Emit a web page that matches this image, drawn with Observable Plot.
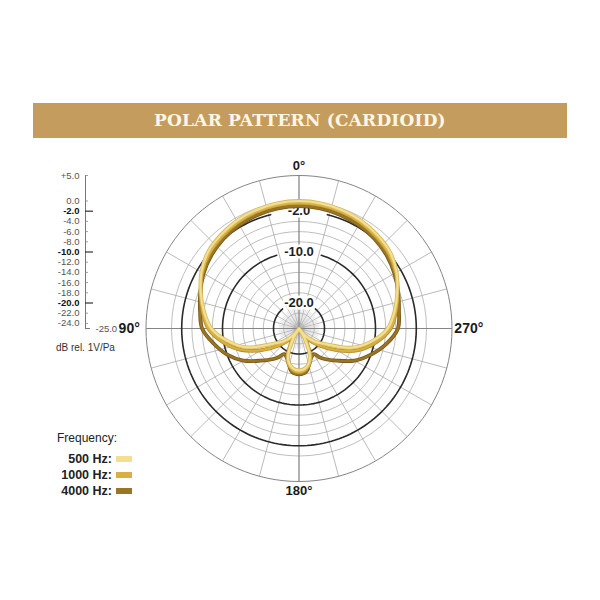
<!DOCTYPE html>
<html>
<head>
<meta charset="utf-8">
<script src="https://cdn.jsdelivr.net/npm/d3@7"></script>
<script src="https://cdn.jsdelivr.net/npm/@observablehq/plot@0.6"></script>
<style>
  html, body { margin: 0; padding: 0; background: #fff; }
  body { font-family: "Liberation Sans", Arial, Helvetica, sans-serif; }
  #page { position: relative; width: 600px; height: 600px; overflow: hidden; }
  #chart { position: absolute; left: 0; top: 0; }
  #banner { position: absolute; left: 33px; top: 103px; width: 534px; height: 35px;
    background: #c49d5e; color: #fbf6e8; font-family: "DejaVu Serif", serif; font-weight: bold;
    font-size: 17px; line-height: 35px; text-align: center; letter-spacing: 0.2px; }
  #unit { position: absolute; left: 56px; top: 342px; font-size: 10px; color: #333; }
  #legend { position: absolute; left: 57px; top: 430px; color: #222; }
  #legend .title { font-size: 12px; line-height: 16px; margin-bottom: 5px; }
  #legend .row { display: flex; align-items: center; height: 16px; }
  #legend .lab { width: 55px; text-align: right; font-size: 12.5px; font-weight: bold; }
  #legend .sw { width: 16px; height: 6px; margin-left: 4px; }
</style>
</head>
<body>
<div id="page">
  <div id="chart"></div>
  <div id="banner"></div>
  <div id="unit"></div>
  <div id="legend"></div>
</div>
<script>
// ---------------- data ----------------
const titleText = "POLAR PATTERN (CARDIOID)";
const unitText = "dB rel. 1V/Pa";
const legendTitle = "Frequency:";
const frequencies = ["500 Hz", "1000 Hz", "4000 Hz"];

// angle in degrees (0° = front/top, 90° = left, 180° = rear, 270° = right)
const angles = [0,10,20,30,40,50,60,70,80,90,100,110,120,130,140,145,150,160,170,180,190,200,210,215,220,230,240,250,260,270,280,290,300,310,320,330,340,350];
// response in dB
const db500  = [0.0,-0.1,-0.3,-0.6,-1.1,-1.7,-2.9,-4.5,-6.1,-7.8, -10.8,-14.2,-19.0,-21.1,-23.3,-25.0,-22.8,-18.7,-17.2,-16.8, -17.2,-18.8,-22.8,-25.0,-23.3,-21.1,-18.8,-14.0,-10.5,-7.6, -6.0,-4.5,-2.9,-1.7,-1.1,-0.6,-0.3,-0.1];
const db1000 = [-0.4,-0.5,-0.7,-1.0,-1.5,-2.1,-3.1,-4.5,-5.8,-7.2, -9.8,-12.8,-16.5,-19.8,-22.3,-23.6,-22.0,-18.4,-16.9,-16.4, -16.9,-18.4,-22.0,-23.6,-22.3,-19.8,-16.5,-12.6,-9.6,-7.0, -5.7,-4.4,-3.1,-2.1,-1.5,-1.0,-0.7,-0.5];
const db4000 = [-1.0,-1.1,-1.3,-1.6,-2.0,-2.6,-3.4,-4.4,-5.3,-6.0, -8.0,-10.0,-12.4,-15.2,-17.2,-18.2,-19.2,-18.5,-16.5,-16.0, -16.5,-18.5,-19.2,-18.2,-17.2,-15.2,-12.4,-10.0,-7.6,-5.6, -5.1,-4.3,-3.4,-2.6,-2.0,-1.6,-1.3,-1.1];

// dB scale
const scaleTicks = [5,0,-2,-4,-6,-8,-10,-12,-14,-16,-18,-20,-22,-24];
const majorTicks = [-2,-10,-20];
const scaleFloor = -25;
const scaleTop = 5;
const gridRings = [0,-4,-6,-8,-12,-14,-16,-18,-22,-24];
const degreeLabelsV = [{a: 0, t: "0°"}, {a: 180, t: "180°"}];
const degreeLabelsH = [{a: 90, t: "90°"}, {a: 270, t: "270°"}];

// ---------------- styles / layout ----------------
const W = 600, H = 600, PX = 5.1, CX = 298.5, CY = 328;
const colors = {"500 Hz": "#f3df90", "1000 Hz": "#d8b040", "4000 Hz": "#9a7624"};
const edges  = {"500 Hz": "#d6b95e", "1000 Hz": "#b58c2a", "4000 Hz": "#76581a"};
const labelGap = {"-2": 14, "-10": 17, "-20": 40}; // half-gap (deg) around labels
const AXIS_X = (85 - CX) / PX;
const FONT = "Liberation Sans, Arial, Helvetica, sans-serif";

const rad = db => Math.max(db - scaleFloor, 0);
const px = (a, db) => -rad(db) * Math.sin(a * Math.PI / 180);
const py = (a, db) => rad(db) * Math.cos(a * Math.PI / 180);
const fmt = d => (d > 0 ? "+" : "") + d.toFixed(1);

// ---------------- build tables ----------------
const series = {"500 Hz": db500, "1000 Hz": db1000, "4000 Hz": db4000};
const rows = f => angles.map((a, i) => ({a, db: series[f][i]}));

const ringRows = gridRings.flatMap(r => d3.range(0, 361, 5).map(a => ({r, a})));
const outerRows = d3.range(0, 361, 3).map(a => ({r: scaleTop, a}));
const darkRows = majorTicks.flatMap(r => {
  const g = labelGap[String(r)];
  return d3.range(g, 360 - g + 0.001, 2).map(a => ({r, a}));
});
const spokes = d3.range(0, 360, 15);
const fineSpokes = d3.range(0, 360, 5).filter(a => a % 15 !== 0);

const curveMarks = [];
for (const f of ["4000 Hz", "1000 Hz", "500 Hz"]) {
  curveMarks.push(Plot.line(rows(f), {x: d => px(d.a, d.db), y: d => py(d.a, d.db), curve: "catmull-rom-closed", stroke: edges[f], strokeWidth: 3.8}));
  curveMarks.push(Plot.line(rows(f), {x: d => px(d.a, d.db), y: d => py(d.a, d.db), curve: "catmull-rom-closed", stroke: colors[f], strokeWidth: 2.2}));
}

const chart = Plot.plot({
  width: W, height: H, margin: 0,
  x: {domain: [-CX / PX, (W - CX) / PX], range: [0, W], axis: null},
  y: {domain: [-(H - CY) / PX, CY / PX], range: [H, 0], axis: null},
  style: {fontFamily: FONT, background: "transparent", overflow: "visible"},
  marks: [
    // fine spokes near center
    Plot.link(fineSpokes, {x1: 0, y1: 0, x2: a => px(a, -21), y2: a => py(a, -21), stroke: "#c4c4c4", strokeWidth: 0.5}),
    // grey rings
    Plot.line(ringRows, {x: d => px(d.a, d.r), y: d => py(d.a, d.r), z: "r", stroke: "#adadad", strokeWidth: 0.8}),
    // spokes
    Plot.link(spokes, {x1: 0, y1: 0, x2: a => px(a, scaleTop), y2: a => py(a, scaleTop), stroke: "#a8a8a8", strokeWidth: 0.8}),
    // outer ring
    Plot.line(outerRows, {x: d => px(d.a, d.r), y: d => py(d.a, d.r), stroke: "#858585", strokeWidth: 1}),
    // main axes
    Plot.link([0, 90], {x1: a => px(a, scaleTop), y1: a => py(a, scaleTop), x2: a => px(a + 180, scaleTop), y2: a => py(a + 180, scaleTop), stroke: "#858585", strokeWidth: 1}),
    // dark rings
    Plot.line(darkRows, {x: d => px(d.a, d.r), y: d => py(d.a, d.r), z: "r", stroke: "#2a2a2a", strokeWidth: 1.6}),
    // ring labels
    Plot.text(majorTicks, {x: 0, y: d => rad(d), text: d => d.toFixed(1), fontSize: 13, fontWeight: "bold", fill: "#1e1e1e", stroke: "white", strokeWidth: 5, paintOrder: "stroke"}),
    // response curves
    ...curveMarks,
    // left dB scale
    Plot.ruleX([AXIS_X], {y1: rad(scaleFloor), y2: rad(scaleTop), stroke: "#777", strokeWidth: 1}),
    Plot.ruleY([scaleFloor], {y: d => rad(d), x1: AXIS_X, x2: AXIS_X + 5 / PX, stroke: "#777", strokeWidth: 1}),
    Plot.ruleY(scaleTicks.filter(d => !majorTicks.includes(d)), {y: d => rad(d), x1: AXIS_X, x2: AXIS_X + 3 / PX, stroke: "#888", strokeWidth: 0.8}),
    Plot.ruleY(majorTicks, {y: d => rad(d), x1: AXIS_X, x2: AXIS_X + 8 / PX, stroke: "#333", strokeWidth: 1.2}),
    Plot.text(scaleTicks.filter(d => !majorTicks.includes(d)), {x: AXIS_X, y: d => rad(d), text: fmt, textAnchor: "end", dx: -6, fontSize: 9.5, fill: "#555"}),
    Plot.text(majorTicks, {x: AXIS_X, y: d => rad(d), text: fmt, textAnchor: "end", dx: -6, fontSize: 9.5, fontWeight: "bold", fill: "#111"}),
    Plot.text([scaleFloor], {x: AXIS_X, y: d => rad(d), text: fmt, textAnchor: "start", dx: 10, fontSize: 9.5, fill: "#555"}),
    // degree labels
    Plot.text(degreeLabelsV, {x: d => px(d.a, 6.8), y: d => py(d.a, 6.8), text: "t", fontSize: 13, fontWeight: "bold", fill: "#1a1a1a"}),
    Plot.text(degreeLabelsH, {x: d => px(d.a, 8.3), y: d => py(d.a, 8.3), text: "t", fontSize: 14, fontWeight: "bold", fill: "#1a1a1a"})
  ]
});
document.getElementById("chart").appendChild(chart);

// banner, unit, legend
document.getElementById("banner").textContent = titleText;
document.getElementById("unit").textContent = unitText;
const lg = document.getElementById("legend");
const t = document.createElement("div"); t.className = "title"; t.textContent = legendTitle; lg.appendChild(t);
for (const f of frequencies) {
  const r = document.createElement("div"); r.className = "row";
  const l = document.createElement("div"); l.className = "lab"; l.textContent = f + ":";
  const s = document.createElement("div"); s.className = "sw"; s.style.background = colors[f];
  r.appendChild(l); r.appendChild(s); lg.appendChild(r);
}
</script>
</body>
</html>
